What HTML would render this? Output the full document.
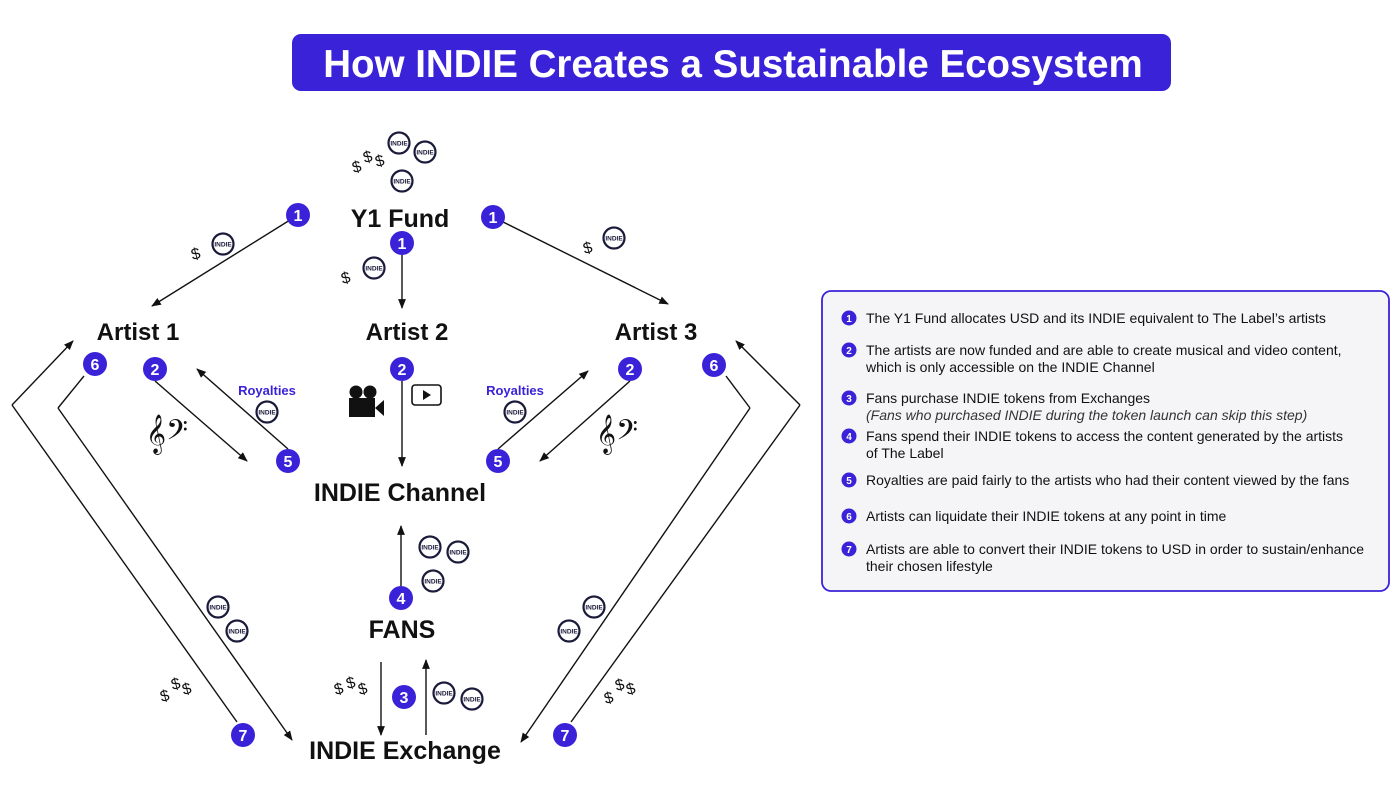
<!DOCTYPE html>
<html><head><meta charset="utf-8">
<style>
html,body{margin:0;padding:0;background:#fff;}
svg{display:block;font-family:"Liberation Sans",sans-serif;}
</style></head>
<body>
<svg id="d" width="1400" height="805" viewBox="0 0 1400 805">
<defs>
<marker id="ah" viewBox="0 0 10 10" refX="9" refY="5" markerWidth="7" markerHeight="7" orient="auto-start-reverse"><path d="M0,1 L10,5 L0,9 z" fill="#111"/></marker>
</defs>
<g>
<rect x="292" y="34" width="879" height="57" rx="9" fill="#3a22d8"/>
<text x="733" y="77" text-anchor="middle" font-size="38.5" font-weight="bold" fill="#fff">How INDIE Creates a Sustainable Ecosystem</text>
</g>
<g id="nodes" font-weight="bold" fill="#111" text-anchor="middle"></g>
<g id="lines" stroke="#111" stroke-width="1.4" fill="none"></g>
<g id="tokens"></g>
<g id="badges"></g>
<g><text x="267" y="395" text-anchor="middle" font-size="13" font-weight="bold" fill="#3a22d8">Royalties</text></g>
<g><text x="515" y="395" text-anchor="middle" font-size="13" font-weight="bold" fill="#3a22d8">Royalties</text></g>
<g><text x="167" y="445" text-anchor="middle" font-size="34" fill="#111" font-family="DejaVu Sans, sans-serif">𝄞𝄢</text></g>
<g><text x="617" y="445" text-anchor="middle" font-size="34" fill="#111" font-family="DejaVu Sans, sans-serif">𝄞𝄢</text></g>
<g fill="#111">
<circle cx="356" cy="392" r="6.5"/><circle cx="370" cy="392" r="6.5"/>
<rect x="349" y="398" width="26" height="19"/><path d="M375,408 L384,400 L384,416 z"/>
</g>
<g>
<rect x="412" y="385" width="29" height="20" rx="3" fill="none" stroke="#111" stroke-width="1.6"/>
<path d="M423,390 L431,395 L423,400 z" fill="#111"/>
</g>
<g>
<rect x="822" y="291" width="567" height="300" rx="9" fill="#f5f5f7" stroke="#3a22d8" stroke-width="1.8"/>
<g id="legend" font-size="14" fill="#111"></g>
</g>
</svg>
<script>
const NS='http://www.w3.org/2000/svg';
function mk(tag,attrs,parent){const e=document.createElementNS(NS,tag);for(const k in attrs)e.setAttribute(k,attrs[k]);parent.appendChild(e);return e;}
const nodeLabels=["Y1 Fund","Artist 1","Artist 2","Artist 3","INDIE Channel","FANS","INDIE Exchange"];
const nodeX=[400,138,407,656,400,402,405];
const nodeY=[227,340,340,340,501,638,759];
const badgeNums=[1,1,1,6,2,2,2,6,5,5,4,3,7,7];
const badgeX=[298,493,402,95,155,402,630,714,288,498,401,404,243,565];
const badgeY=[215,217,243,364,369,369,369,365,461,461,598,697,735,735];
const tokenX=[399,425,402,223,374,614,267,515,430,458,433,218,237,594,569,444,472];
const tokenY=[143,152,181,244,268,238,412,412,547,552,581,607,631,607,631,693,699];
const dollarX=[358,369,381,197,347,589,166,177,188,610,621,632,340,352,364];
const dollarY=[172,162,166,259,283,253,701,689,694,703,690,694,694,688,694];
const arrows=[[298,215,152,306,1],[493,217,668,304,1],[402,255,402,308,1],[155,381,247,461,1],[288,449,197,369,1],[402,381,402,466,1],[498,449,588,371,1],[630,381,540,461,1],[401,586,401,526,1],[381,662,381,735,1],[426,735,426,660,1],[12,405,73,341,1],[12,405,237,722,0],[84,376,58,408,0],[58,408,292,740,1],[800,405,736,341,1],[800,405,571,722,0],[726,376,750,408,0],[750,408,521,742,1]];
const legendNums=[1,2,3,4,5,6,7];
const legendY=[323,355,403,441,485,521,554];
const legendText=[["The Y1 Fund allocates USD and its INDIE equivalent to The Label’s artists"],["The artists are now funded and are able to create musical and video content,","which is only accessible on the INDIE Channel"],["Fans purchase INDIE tokens from Exchanges","(Fans who purchased INDIE during the token launch can skip this step)"],["Fans spend their INDIE tokens to access the content generated by the artists","of The Label"],["Royalties are paid fairly to the artists who had their content viewed by the fans"],["Artists can liquidate their INDIE tokens at any point in time"],["Artists are able to convert their INDIE tokens to USD in order to sustain/enhance","their chosen lifestyle"]];

const gN=document.getElementById('nodes');
nodeLabels.forEach((t,i)=>{const e=mk('text',{x:nodeX[i],y:nodeY[i],'font-size':i==0||i>3?25:24},gN);e.textContent=t;

});
const gL=document.getElementById('lines');
arrows.forEach((a,i)=>{const l=mk('line',{x1:a[0],y1:a[1],x2:a[2],y2:a[3]},gL);if(a[4])l.setAttribute('marker-end','url(#ah)');

});
const gT=document.getElementById('tokens');
tokenX.forEach((x,i)=>{const g=mk('g',{},gT);


mk('circle',{cx:x,cy:tokenY[i],r:10.5,fill:'#fff',stroke:'#1a1a3a','stroke-width':2.2},g);
const t=mk('text',{x:x,y:tokenY[i]+2.5,'text-anchor':'middle','font-size':6.5,'font-weight':'bold',fill:'#1a1a3a'},g);t.textContent='INDIE';});
dollarX.forEach((x,i)=>{const t=mk('text',{x:x,y:dollarY[i],'text-anchor':'middle','font-size':16,fill:'#111',transform:`rotate(-15 ${x} ${dollarY[i]})`},gT);t.textContent='$';

});
const gB=document.getElementById('badges');
badgeNums.forEach((n,i)=>{const g=mk('g',{},gB);


mk('circle',{cx:badgeX[i],cy:badgeY[i],r:12,fill:'#3a22d8'},g);
const t=mk('text',{x:badgeX[i],y:badgeY[i]+6,'text-anchor':'middle','font-size':16,'font-weight':'bold',fill:'#fff'},g);t.textContent=n;});
const gLe=document.getElementById('legend');
legendNums.forEach((n,i)=>{const g=mk('g',{},gLe);


mk('circle',{cx:849,cy:legendY[i]-5,r:7.5,fill:'#3a22d8'},g);
const c=mk('text',{x:849,y:legendY[i]-1,'text-anchor':'middle','font-size':10,'font-weight':'bold',fill:'#fff'},g);c.textContent=n;
legendText[i].forEach((s,j)=>{const t=mk('text',{x:866,y:legendY[i]+j*17},g);t.textContent=s;
if(n==3&&j==1){t.setAttribute('font-style','italic');t.setAttribute('fill','#333');}});});
</script>
</body></html>
